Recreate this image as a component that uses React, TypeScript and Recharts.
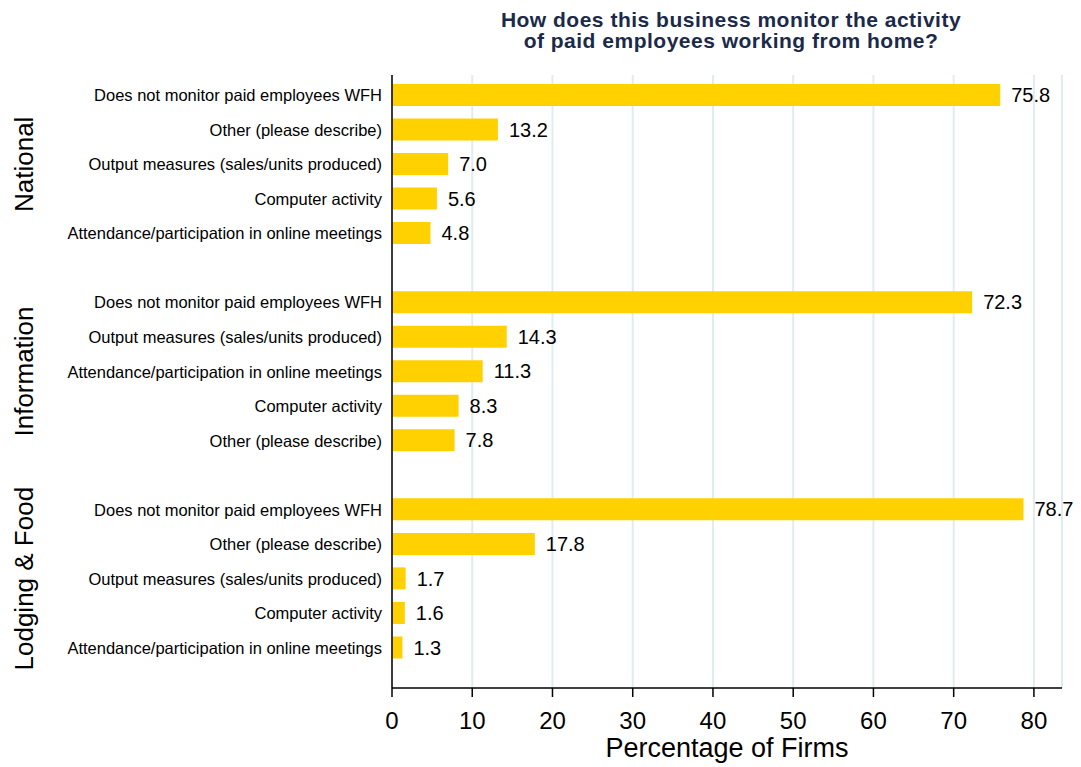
import React from 'react';
import { BarChart, Bar, XAxis, YAxis, CartesianGrid, LabelList } from 'recharts';

const groups = ['National', 'Information', 'Lodging & Food'];

const nationalLabels = [
  'Does not monitor paid employees WFH',
  'Other (please describe)',
  'Output measures (sales/units produced)',
  'Computer activity',
  'Attendance/participation in online meetings',
];
const nationalValues = [75.8, 13.2, 7.0, 5.6, 4.8];

const informationLabels = [
  'Does not monitor paid employees WFH',
  'Output measures (sales/units produced)',
  'Attendance/participation in online meetings',
  'Computer activity',
  'Other (please describe)',
];
const informationValues = [72.3, 14.3, 11.3, 8.3, 7.8];

const lodgingLabels = [
  'Does not monitor paid employees WFH',
  'Other (please describe)',
  'Output measures (sales/units produced)',
  'Computer activity',
  'Attendance/participation in online meetings',
];
const lodgingValues = [78.7, 17.8, 1.7, 1.6, 1.3];

const xTicks = [0, 10, 20, 30, 40, 50, 60, 70, 80];

type Row = { id: string; label: string; value: number | null; group: string; mid: boolean };

const groupData: [string, string[], number[]][] = [
  [groups[0], nationalLabels, nationalValues],
  [groups[1], informationLabels, informationValues],
  [groups[2], lodgingLabels, lodgingValues],
];

const rows: Row[] = [];
groupData.forEach(([g, labels, values], gi) => {
  if (gi > 0) rows.push({ id: 'gap' + gi, label: '', value: null, group: '', mid: false });
  labels.forEach((l, i) => {
    rows.push({ id: g + i, label: l, value: values[i], group: g, mid: i === 2 });
  });
});
const rowById: Record<string, Row> = {};
rows.forEach((r) => (rowById[r.id] = r));

const FONT = '"Liberation Sans", Arial, Helvetica, sans-serif';
const W = 1073;
const H = 759;
const M = { top: 67, right: 19, bottom: 0, left: 0 };
const Y_W = 384;
const X_H = 79;
const plotCenter = (Y_W + (W - M.right)) / 2;

const YTick = (props: any) => {
  const { x, y, payload } = props;
  const r = rowById[payload.value];
  if (!r || !r.label) return null;
  return (
    <g>
      <text x={x - 10} y={y} textAnchor="end" dominantBaseline="central" fontFamily={FONT} fontSize={16.5} fill="#000">
        {r.label}
      </text>
      {r.mid && (
        <text
          x={16}
          y={y}
          transform={`rotate(-90 16 ${y})`}
          textAnchor="middle"
          dominantBaseline="central"
          fontFamily={FONT}
          fontSize={26}
          fill="#000"
        >
          {r.group}
        </text>
      )}
    </g>
  );
};

const XTick = (props: any) => {
  const { x, y, payload } = props;
  return (
    <text x={x} y={y + 23} textAnchor="middle" dominantBaseline="central" fontFamily={FONT} fontSize={24} fill="#000">
      {payload.value}
    </text>
  );
};

export default function App() {
  return (
    <BarChart width={W} height={H} data={rows} layout="vertical" margin={M} barCategoryGap={0}>
      <CartesianGrid horizontal={false} vertical stroke="#e1ecef" strokeWidth={2} />
      <XAxis
        type="number"
        domain={[0, 83.5]}
        ticks={xTicks}
        allowDataOverflow
        height={X_H}
        tickSize={9}
        tickMargin={0}
        tick={<XTick />}
        axisLine={{ stroke: '#000', strokeWidth: 1.5 }}
        tickLine={{ stroke: '#000', strokeWidth: 1.5 }}
      />
      <YAxis
        type="category"
        dataKey="id"
        width={Y_W}
        padding={{ top: 3, bottom: 23 }}
        tickSize={0}
        tickMargin={0}
        tick={<YTick />}
        tickLine={false}
        interval={0}
        axisLine={{ stroke: '#000', strokeWidth: 1.5 }}
      />
      <Bar dataKey="value" fill="#FFD100" barSize={22} isAnimationActive={false}>
        <LabelList
          dataKey="value"
          position="right"
          offset={11}
          formatter={(v: any) => (v == null ? '' : Number(v).toFixed(1))}
          style={{ fontFamily: FONT, fontSize: 20, fill: '#000' }}
        />
      </Bar>
      <text x={723} y={19} textAnchor="middle" fontFamily={FONT} fontSize={21} letterSpacing={0.5} fontWeight="bold" fill="#1c2a4a">
        How does this business monitor the activity
      </text>
      <text x={723} y={40} textAnchor="middle" fontFamily={FONT} fontSize={21} letterSpacing={0.5} fontWeight="bold" fill="#1c2a4a">
        of paid employees working from home?
      </text>
      <text x={plotCenter} y={749} textAnchor="middle" fontFamily={FONT} fontSize={27} fill="#000">
        Percentage of Firms
      </text>
    </BarChart>
  );
}
